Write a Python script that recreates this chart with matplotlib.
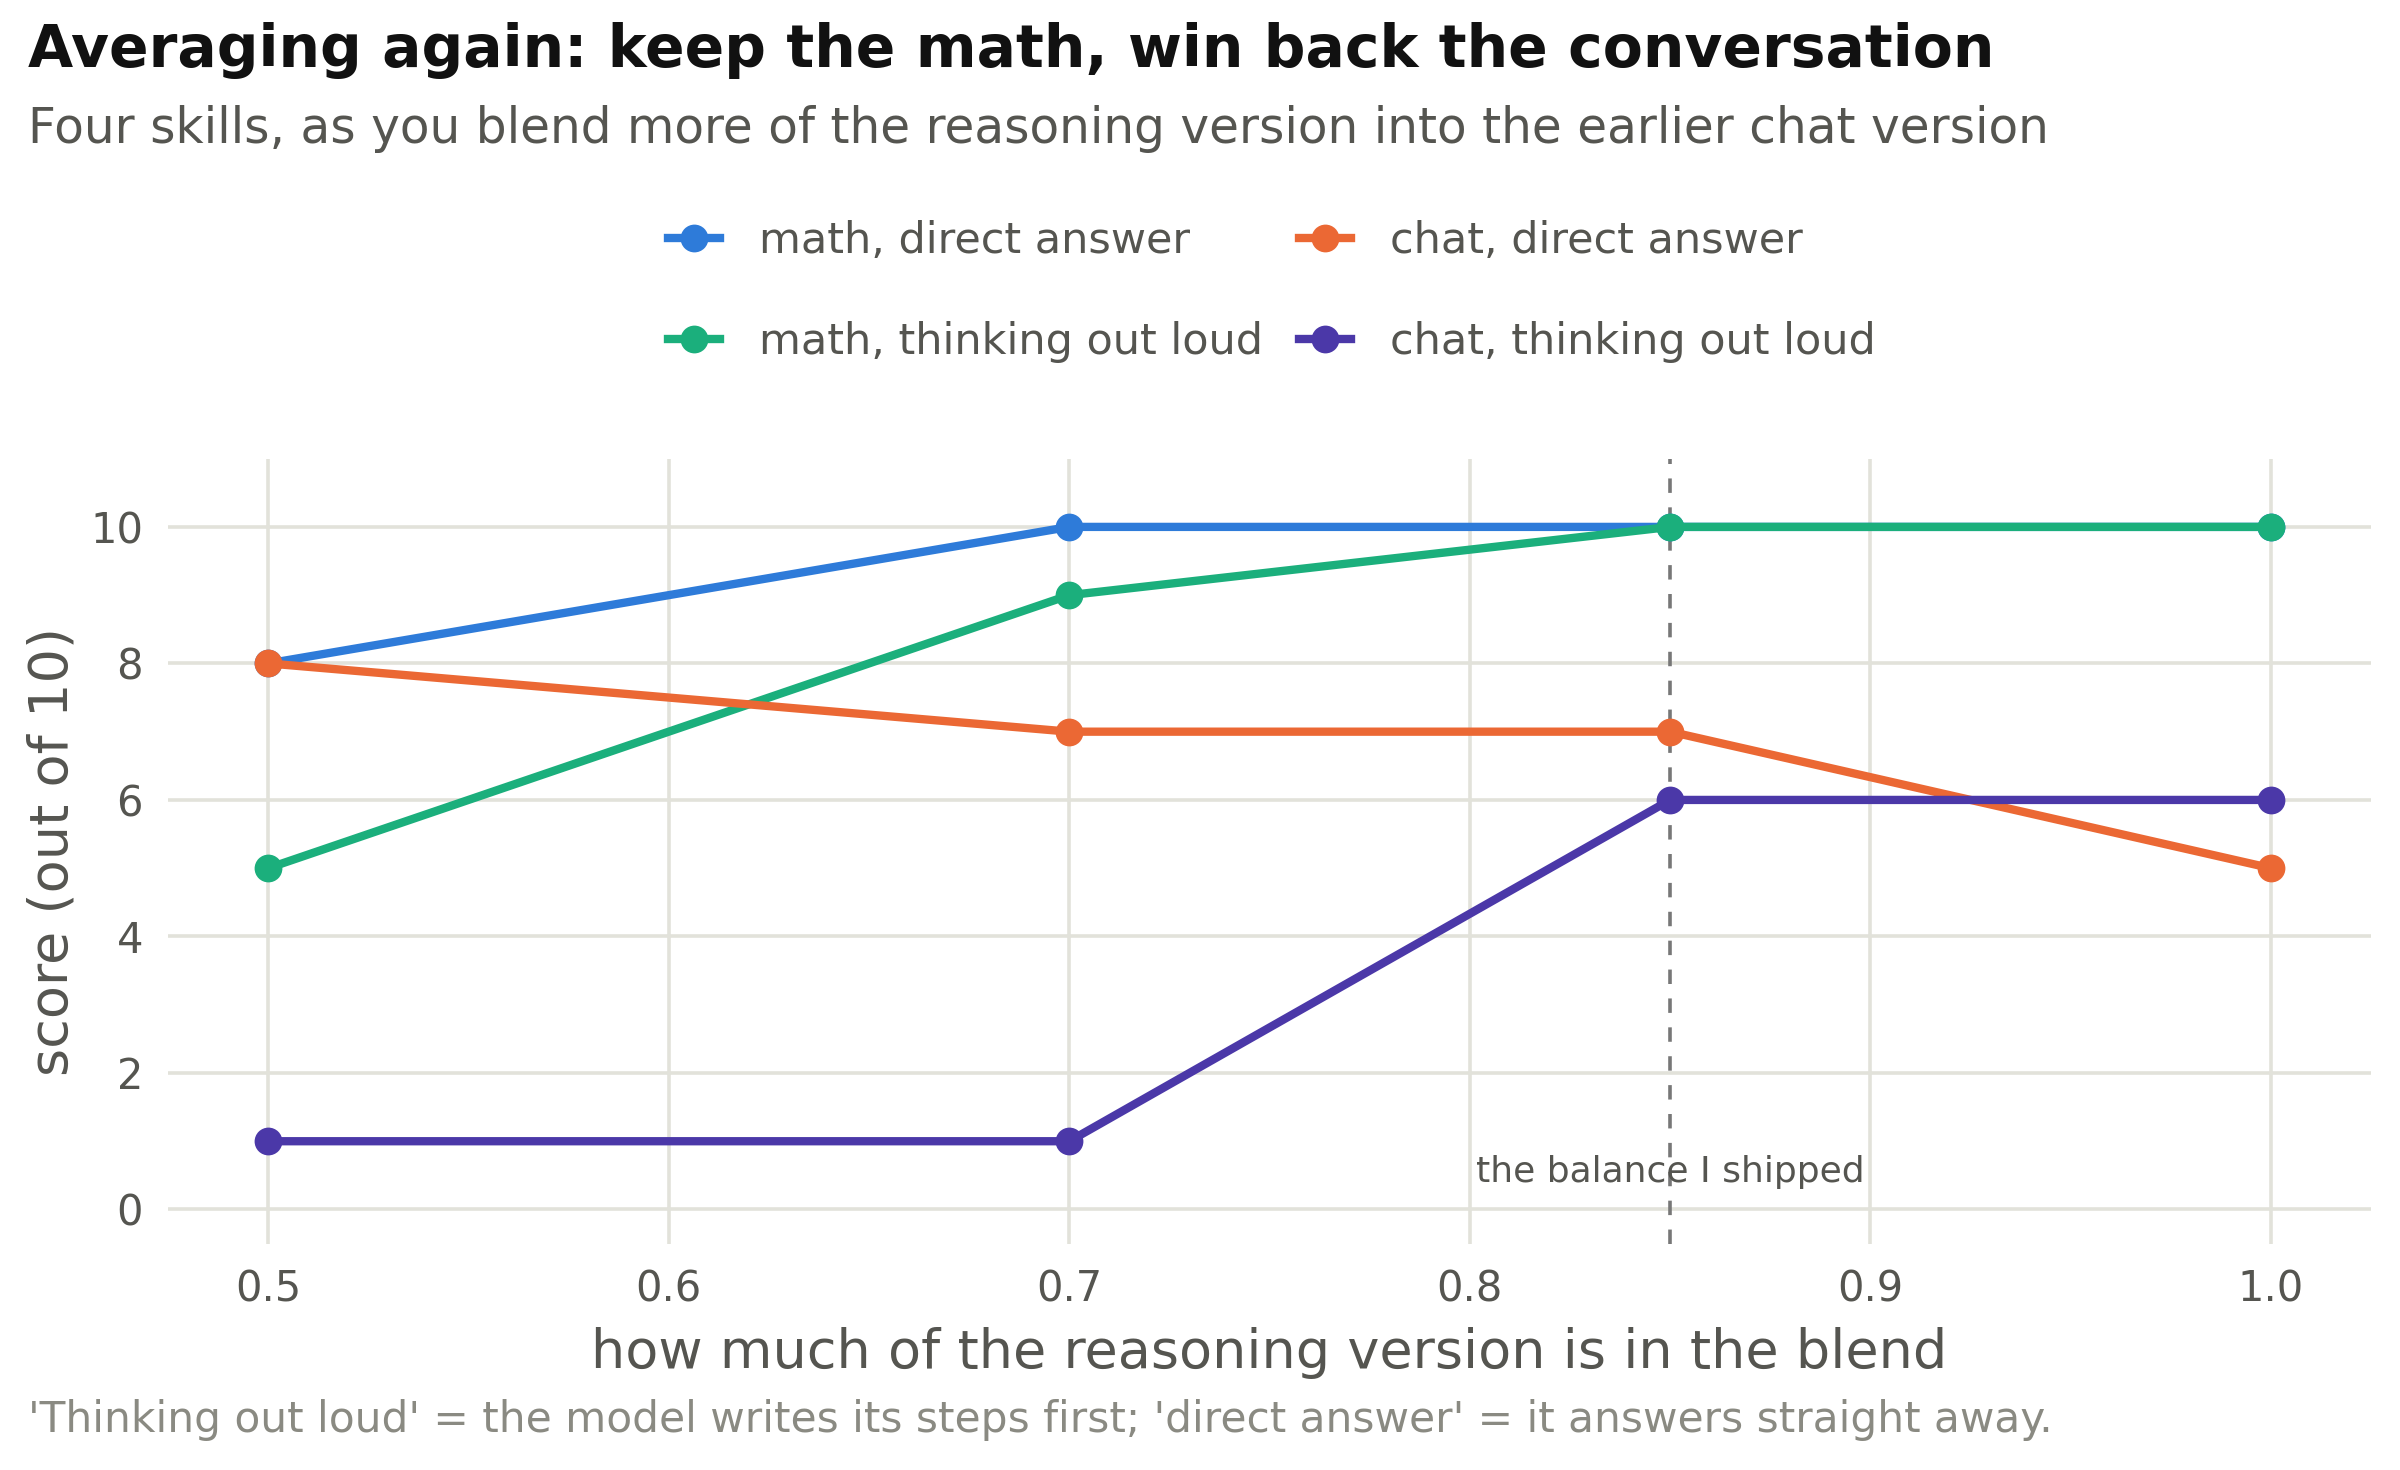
import matplotlib.pyplot as plt

# blend fraction of the reasoning version
blend = [0.5, 0.7, 0.85, 1.0]

math_direct = [8, 10, 10, 10]
math_thinking = [5, 9, 10, 10]
chat_direct = [8, 7, 7, 5]
chat_thinking = [1, 1, 6, 6]

labels = ['math, direct answer', 'math, thinking out loud',
          'chat, direct answer', 'chat, thinking out loud']
colors = ['#2E7BD9', '#1BAF7C', '#EB6834', '#4B38A8']
shipped = 0.85

text_col = '#555550'
grid_col = '#E2E2DA'

plt.rcParams['font.family'] = ['DejaVu Sans']

fig = plt.figure(figsize=(12, 7.35), dpi=200)
ax = fig.add_axes([0.07, 0.154, 0.918, 0.534])

series = [math_direct, math_thinking, chat_direct, chat_thinking]
for vals, lab, c in zip(series, labels, colors):
    ax.plot(blend, vals, marker='o', markersize=9, linewidth=3, color=c, label=lab, zorder=3)

ax.axvline(shipped, color='#777777', linestyle=(0, (4, 4)), linewidth=1.3, zorder=2)
ax.text(shipped, 0.55, 'the balance I shipped', ha='center', va='center',
        fontsize=13, color=text_col, zorder=4)

ax.set_xlim(0.475, 1.025)
ax.set_ylim(-0.5, 11)
ax.set_xticks([0.5, 0.6, 0.7, 0.8, 0.9, 1.0])
ax.set_xticklabels(['0.5', '0.6', '0.7', '0.8', '0.9', '1.0'])
ax.set_yticks([0, 2, 4, 6, 8, 10])
ax.grid(True, color=grid_col, linewidth=1.3, zorder=0)
ax.set_axisbelow(True)
for s in ax.spines.values():
    s.set_visible(False)
ax.tick_params(length=0, labelsize=15, labelcolor=text_col, pad=9)

ax.set_xlabel('how much of the reasoning version is in the blend', fontsize=19.5, color=text_col, labelpad=6)
ax.set_ylabel('score (out of 10)', fontsize=19.5, color=text_col, labelpad=4)

# legend order: math direct, math thinking | chat direct, chat thinking
leg = ax.legend(loc='center', bbox_to_anchor=(0.53, 0.8016), bbox_transform=fig.transFigure,
                ncol=2, frameon=False, fontsize=15.5, labelcolor=text_col,
                handlelength=1.2, labelspacing=1.38, columnspacing=0.85, handletextpad=0.9)

fig.text(0.0115, 0.9656, 'Averaging again: keep the math, win back the conversation',
         fontsize=21, fontweight='bold', color='#111111', va='center')
fig.text(0.0115, 0.912, 'Four skills, as you blend more of the reasoning version into the earlier chat version',
         fontsize=17.5, color=text_col, va='center')
fig.text(0.0115, 0.034, "'Thinking out loud' = the model writes its steps first; 'direct answer' = it answers straight away.",
         fontsize=15.2, color='#8A8A82', va='center')

fig.savefig('out.png', dpi=200, facecolor='white')
